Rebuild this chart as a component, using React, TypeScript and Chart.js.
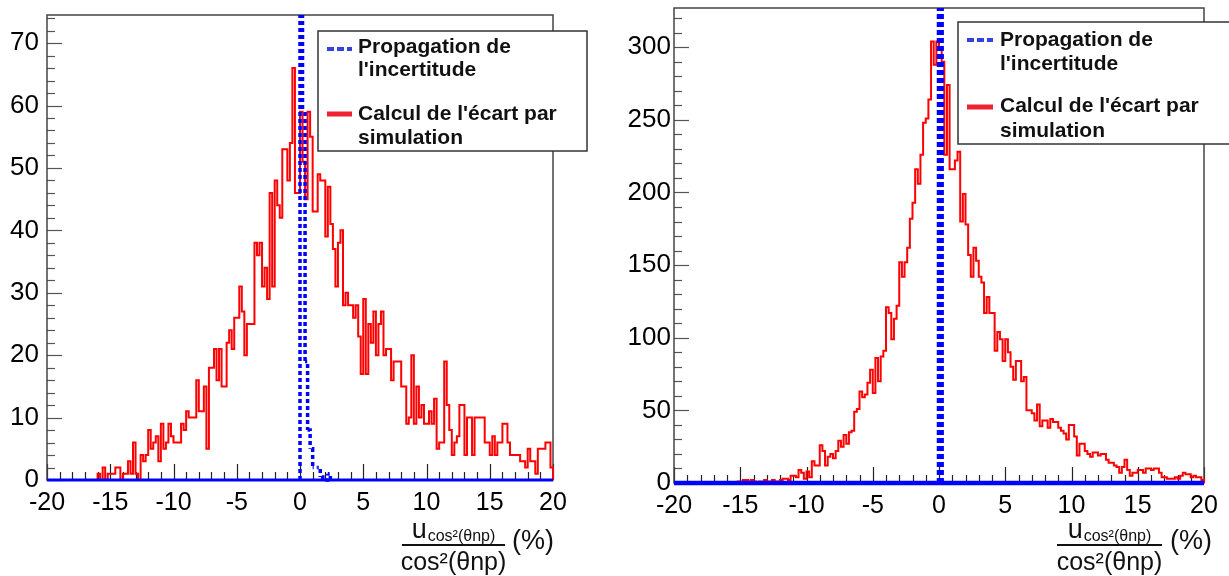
import React, { useEffect, useRef } from "react";
import { Chart, registerables } from "chart.js";

Chart.register(...registerables);

const FONT = "'Liberation Sans', Arial, Helvetica, sans-serif";
const X_MIN = -20;
const X_MAX = 20;
const BIN_WIDTH = 0.2;
const X_TICK_VALUES = [-20, -15, -10, -5, 0, 5, 10, 15, 20];

const LEFT_Y_TICKS = [0, 10, 20, 30, 40, 50, 60, 70];
const RIGHT_Y_TICKS = [0, 50, 100, 150, 200, 250, 300];

const LEGEND_BLUE = ["Propagation de", "l'incertitude"];
const LEGEND_RED = ["Calcul de l'écart par", "simulation"];

// left panel: 200 bins of 0.2 from -20 to 20 (simulation)
const leftRed = [
  0, 0, 0, 0, 0, 0, 0, 0, 0, 0, 0, 0, 0, 0, 0, 0, 0, 0, 0, 0,
  1, 0, 2, 0, 1, 1, 1, 2, 2, 0, 1, 1, 3, 1, 6, 1, 0, 4, 3, 4,
  8, 5, 6, 7, 3, 9, 5, 6, 9, 7, 6, 6, 6, 9, 8, 11, 10, 10, 10, 16,
  11, 11, 15, 5, 18, 18, 21, 16, 21, 15, 15, 22, 24, 21, 26, 26, 31, 27, 20, 25,
  25, 25, 38, 36, 38, 31, 34, 29, 46, 31, 48, 44, 42, 53, 53, 48, 54, 66, 46, 46,
  59, 51, 45, 59, 55, 43, 43, 49, 48, 48, 39, 47, 41, 37, 31, 38, 40, 28, 30, 28,
  28, 26, 28, 23, 17, 29, 17, 25, 22, 27, 20, 25, 27, 20, 21, 21, 16, 19, 19, 19,
  15, 15, 9, 10, 20, 9, 15, 10, 12, 9, 9, 11, 9, 13, 5, 6, 6, 19, 12, 8,
  4, 6, 7, 12, 12, 4, 10, 10, 4, 10, 10, 10, 10, 6, 6, 4, 7, 4, 6, 6,
  9, 9, 6, 4, 4, 4, 4, 3, 3, 2, 5, 3, 3, 1, 5, 5, 5, 6, 6, 2,
];
// left panel: uncertainty propagation, non-zero bins starting at bin 100 (x = 0)
const leftBlueFromBin = 100;
const leftBlue = [400, 59, 19, 8, 5, 2, 2, 2, 0.5, 0, 0, 1];

// right panel
const rightRed = [
  0, 0, 0, 0, 0, 0, 0, 0, 0, 0, 0, 0, 0, 0, 0, 0, 0, 0, 0, 0,
  0, 0, 0, 0, 1, 1, 2, 2, 1, 2, 1, 0, 1, 1, 2, 1, 1, 2, 1, 1,
  2, 3, 3, 2, 5, 5, 4, 9, 7, 3, 8, 4, 15, 12, 12, 26, 22, 12, 18, 20,
  17, 22, 29, 25, 33, 27, 35, 36, 49, 51, 63, 59, 61, 69, 78, 62, 86, 70, 87, 91,
  121, 117, 99, 113, 122, 152, 142, 152, 162, 182, 193, 216, 206, 226, 248, 251, 264, 304, 288, 304,
  299, 290, 226, 274, 216, 216, 222, 228, 180, 199, 178, 157, 142, 162, 153, 142, 138, 117, 128, 117,
  117, 91, 104, 99, 84, 99, 90, 80, 71, 84, 84, 70, 73, 50, 50, 48, 43, 54, 39, 43,
  43, 38, 44, 42, 42, 38, 36, 34, 30, 40, 40, 32, 19, 27, 27, 22, 20, 18, 21, 21,
  19, 20, 20, 16, 14, 14, 12, 11, 7, 11, 16, 9, 5, 7, 7, 9, 9, 7, 10, 10,
  9, 10, 10, 7, 4, 4, 3, 3, 3, 4, 3, 5, 7, 6, 6, 4, 5, 4, 4, 2,
];
const rightBlueFromBin = 100;
const rightBlue = [2000];

type PanelCfg = {
  canvasLeft: number;
  width: number;
  area: { left: number; top: number; right: number; bottom: number };
  yMax: number;
  yTicks: number[];
  yMinor: number;
  yPad: number;
  red: number[];
  blue: number[];
  blueFrom: number;
  blueWidth: number;
  blueBaseWidth: number;
  blueDash: number[];
  legend: { x: number; y: number; w: number; h: number; symX: number; symW: number; textX: number; base: number[]; blueY: number; redY: number };
  title: { x0: number; x1: number; lineY: number; numBase: number; subBase: number; denBase: number; pctX: number; pctBase: number };
};

function binEdge(i: number) {
  return Math.round((X_MIN + i * BIN_WIDTH) * 1000) / 1000;
}

// points at bin low edges; with stepped "before" each value is held until the next edge
function histPoints(values: number[]) {
  const pts = values.map((v, i) => ({ x: binEdge(i), y: v }));
  pts.push({ x: X_MAX, y: 0 });
  return pts;
}

// non-zero part of a histogram, starting and ending on the baseline
function spikePoints(from: number, vals: number[]) {
  const pts = [{ x: binEdge(from), y: 0 }];
  vals.forEach((v, i) => pts.push({ x: binEdge(from + i), y: v }));
  pts.push({ x: binEdge(from + vals.length), y: 0 });
  return pts;
}

// keep the dashes of every vertical edge in phase with a pattern anchored on the baseline
function dashOffsetFor(dash: number[]) {
  return (c: any) => {
    const P = dash[0] + dash[1];
    const D = dash[0];
    const y0 = c.chart.scales.y.getPixelForValue(0);
    const w = Math.abs(c.p1.x - c.p0.x);
    const yp0 = c.p0.y;
    const o = c.p1.y > c.p0.y ? yp0 - w - y0 + D : y0 - yp0 - w;
    return ((o % P) + P) % P;
  };
}

function overlay(cfg: PanelCfg) {
  return {
    id: "overlay",
    beforeDatasetsDraw(chart: any) {
      const { ctx, chartArea: a, scales } = chart;
      const xs = scales.x;
      const ys = scales.y;
      ctx.save();
      ctx.lineWidth = 1.2;
      ctx.strokeStyle = "#555";
      for (let k = 0; k * cfg.yMinor <= cfg.yMax + 1e-9; k++) {
        const v = k * cfg.yMinor;
        const py = Math.round(ys.getPixelForValue(v)) + 0.5;
        const major = k % 5 === 0;
        ctx.beginPath();
        ctx.moveTo(a.left, py);
        ctx.lineTo(a.left + (major ? 15 : 8), py);
        ctx.stroke();
      }
      ctx.strokeStyle = "#222";
      for (let v = X_MIN; v <= X_MAX; v += 1) {
        const px = Math.round(xs.getPixelForValue(v)) + 0.5;
        const major = v % 5 === 0;
        ctx.beginPath();
        ctx.moveTo(px, a.bottom);
        ctx.lineTo(px, a.bottom - (major ? 16 : 8));
        ctx.stroke();
      }
      ctx.lineWidth = 1.5;
      ctx.strokeStyle = "#444";
      ctx.strokeRect(a.left, a.top, a.right - a.left, a.bottom - a.top);
      ctx.restore();
    },
    afterDraw(chart: any) {
      const ctx = chart.ctx;
      const L = cfg.legend;
      ctx.save();
      ctx.fillStyle = "#fff";
      ctx.fillRect(L.x, L.y, L.w, L.h);
      ctx.strokeStyle = "#333";
      ctx.lineWidth = 1.5;
      ctx.strokeRect(L.x, L.y, L.w, L.h);
      // symbols
      ctx.strokeStyle = "#3344dd";
      ctx.lineWidth = 4;
      ctx.setLineDash([7, 3]);
      ctx.beginPath();
      ctx.moveTo(L.symX, L.blueY);
      ctx.lineTo(L.symX + L.symW, L.blueY);
      ctx.stroke();
      ctx.setLineDash([]);
      ctx.strokeStyle = "#ee2233";
      ctx.lineWidth = 5;
      ctx.beginPath();
      ctx.moveTo(L.symX, L.redY);
      ctx.lineTo(L.symX + L.symW, L.redY);
      ctx.stroke();
      ctx.fillStyle = "#111";
      ctx.font = `bold 21px ${FONT}`;
      ctx.textAlign = "left";
      ctx.textBaseline = "alphabetic";
      const lines = [...LEGEND_BLUE, ...LEGEND_RED];
      lines.forEach((t, i) => ctx.fillText(t, L.textX, L.base[i]));

      // axis title: fraction
      const T = cfg.title;
      const cx = (T.x0 + T.x1) / 2;
      ctx.fillStyle = "#111";
      ctx.font = `27px ${FONT}`;
      const uW = ctx.measureText("u").width;
      ctx.font = `16px ${FONT}`;
      const subW = ctx.measureText("cos²(θnp)").width;
      const start = cx - (uW + subW + 1) / 2;
      ctx.font = `27px ${FONT}`;
      ctx.fillText("u", start, T.numBase);
      ctx.font = `16px ${FONT}`;
      ctx.fillText("cos²(θnp)", start + uW + 1, T.subBase);
      ctx.strokeStyle = "#111";
      ctx.lineWidth = 2;
      ctx.beginPath();
      ctx.moveTo(T.x0, T.lineY);
      ctx.lineTo(T.x1, T.lineY);
      ctx.stroke();
      ctx.font = `25px ${FONT}`;
      ctx.textAlign = "center";
      ctx.fillText("cos²(θnp)", cx, T.denBase);
      ctx.textAlign = "left";
      ctx.font = `27px ${FONT}`;
      ctx.fillText("(%)", T.pctX, T.pctBase);
      ctx.restore();
    },
  };
}

function buildConfig(cfg: PanelCfg): any {
  return {
    type: "line",
    data: {
      datasets: [
        {
          label: "Propagation de l'incertitude",
          data: spikePoints(cfg.blueFrom, cfg.blue),
          stepped: "before",
          borderColor: "#0000ff",
          borderWidth: cfg.blueWidth,
          borderDash: cfg.blueDash,
          pointRadius: 0,
          fill: false,
          order: 0,
          clip: { left: 3, right: 3, top: 0, bottom: 4 },
          segment: { borderDashOffset: dashOffsetFor(cfg.blueDash) },
        },
        {
          label: "Propagation de l'incertitude (baseline)",
          data: [
            { x: X_MIN, y: 0 },
            { x: X_MAX, y: 0 },
          ],
          borderColor: "#0000ff",
          borderWidth: cfg.blueBaseWidth,
          pointRadius: 0,
          fill: false,
          order: 0,
          clip: { left: 3, right: 3, top: 0, bottom: 4 },
        },
        {
          label: "Calcul de l'écart par simulation",
          data: histPoints(cfg.red),
          stepped: "before",
          borderColor: "#ff0000",
          borderWidth: 2,
          pointRadius: 0,
          fill: false,
          order: 1,
          clip: { left: 3, right: 3, top: 0, bottom: 3 },
        },
      ],
    },
    options: {
      animation: false,
      responsive: false,
      events: [],
      layout: {
        padding: { left: 0, top: cfg.area.top, right: cfg.width - cfg.area.right, bottom: 0 },
      },
      plugins: { legend: { display: false }, tooltip: { enabled: false } },
      scales: {
        x: {
          type: "linear",
          min: X_MIN,
          max: X_MAX,
          afterBuildTicks: (s: any) => {
            s.ticks = X_TICK_VALUES.map((v) => ({ value: v }));
          },
          afterFit: (s: any) => {
            s.height = 576 - cfg.area.bottom;
            s.paddingLeft = 0;
            s.paddingRight = 0;
          },
          grid: { display: false, drawTicks: false },
          border: { display: false },
          ticks: {
            autoSkip: false,
            maxRotation: 0,
            padding: 8,
            color: "#000",
            font: { family: FONT, size: 25 },
            callback: (v: any) => String(v),
          },
        },
        y: {
          type: "linear",
          min: 0,
          max: cfg.yMax,
          afterBuildTicks: (s: any) => {
            s.ticks = cfg.yTicks.map((v) => ({ value: v }));
          },
          afterFit: (s: any) => {
            s.width = cfg.area.left;
            s.paddingTop = 0;
            s.paddingBottom = 0;
          },
          grid: { display: false, drawTicks: false },
          border: { display: false },
          ticks: {
            autoSkip: false,
            padding: cfg.yPad,
            color: "#000",
            font: { family: FONT, size: 26, lineHeight: 0.5 },
            callback: (v: any) => String(v),
          },
        },
      },
    },
    plugins: [overlay(cfg)],
  };
}

const LEFT_CFG: PanelCfg = {
  canvasLeft: 0,
  width: 610,
  area: { left: 47, top: 15, right: 553, bottom: 480 },
  yMax: 74.5,
  yTicks: LEFT_Y_TICKS,
  yMinor: 2,
  yPad: 8,
  red: leftRed,
  blue: leftBlue,
  blueFrom: leftBlueFromBin,
  blueWidth: 3.5,
  blueBaseWidth: 3,
  blueDash: [4, 3],
  legend: { x: 318, y: 31, w: 269, h: 120, symX: 327, symW: 25, textX: 358, base: [53, 76, 120, 144], blueY: 49, redY: 114 },
  title: { x0: 402, x1: 505, lineY: 545, numBase: 538, subBase: 541, denBase: 570, pctX: 512, pctBase: 549 },
};

const RIGHT_CFG: PanelCfg = {
  canvasLeft: 610,
  width: 619,
  area: { left: 64, top: 8, right: 594, bottom: 483 },
  yMax: 327,
  yTicks: RIGHT_Y_TICKS,
  yMinor: 10,
  yPad: 3,
  red: rightRed,
  blue: rightBlue,
  blueFrom: rightBlueFromBin,
  blueWidth: 4.5,
  blueBaseWidth: 4.5,
  blueDash: [5, 3],
  legend: { x: 348, y: 22, w: 280, h: 122, symX: 357, symW: 26, textX: 390, base: [46, 70, 112, 137], blueY: 40, redY: 107 },
  title: { x0: 447, x1: 552, lineY: 545, numBase: 538, subBase: 541, denBase: 570, pctX: 560, pctBase: 549 },
};

function Panel({ cfg }: { cfg: PanelCfg }) {
  const ref = useRef<HTMLCanvasElement>(null);
  useEffect(() => {
    const chart = new Chart(ref.current as HTMLCanvasElement, buildConfig(cfg));
    return () => chart.destroy();
  }, [cfg]);
  return (
    <canvas
      ref={ref}
      width={cfg.width}
      height={576}
      style={{ position: "absolute", left: cfg.canvasLeft, top: 0, width: cfg.width, height: 576 }}
    />
  );
}

export default function App() {
  return (
    <div style={{ position: "absolute", left: 0, top: 0, width: 1229, height: 576, background: "#fff", overflow: "hidden" }}>
      <Panel cfg={LEFT_CFG} />
      <Panel cfg={RIGHT_CFG} />
    </div>
  );
}
